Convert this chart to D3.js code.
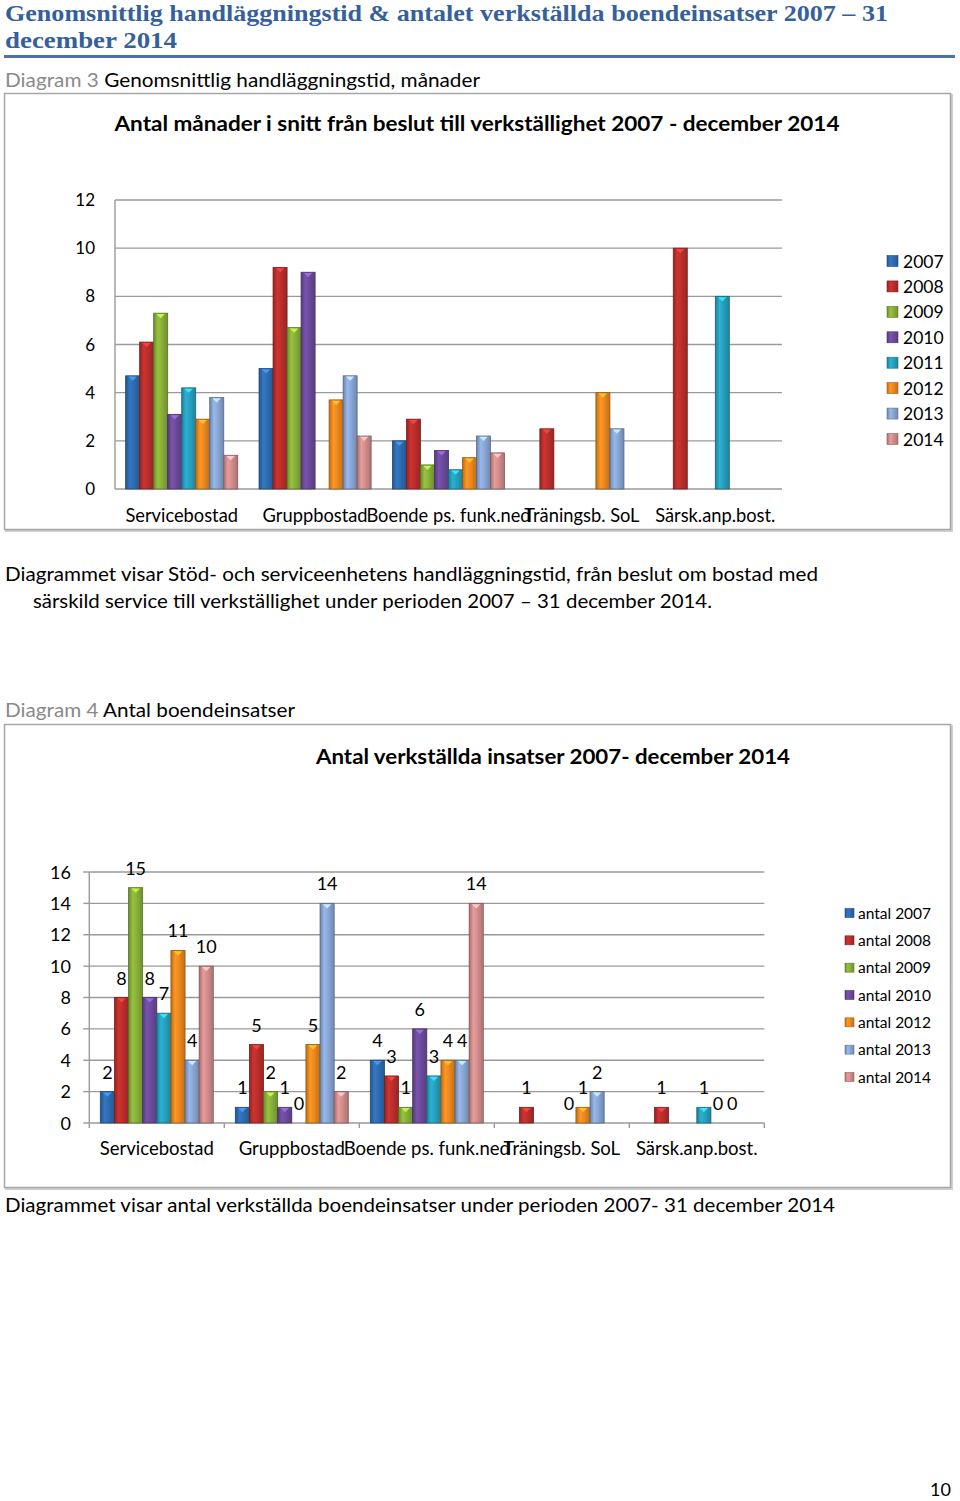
<!DOCTYPE html>
<html><head><meta charset="utf-8">
<script src="https://cdn.jsdelivr.net/npm/d3@7"></script>
<style>
body{margin:0;background:#fff}
svg{display:block}
text{font-family:Lato,"Open Sans",sans-serif;fill:#000}
</style>
</head><body><div id="c"></div>
<script>
// ---------- data ----------
const categories = ["Servicebostad","Gruppbostad","Boende ps. funk.ned","Träningsb. SoL","Särsk.anp.bost."];
const years = ["2007","2008","2009","2010","2011","2012","2013","2014"];
// Diagram 3: average months from decision to execution
const months2007 = [4.7, 5.0, 2.0, null, null];
const months2008 = [6.1, 9.2, 2.9, 2.5, 10.0];
const months2009 = [7.3, 6.7, 1.0, null, null];
const months2010 = [3.1, 9.0, 1.6, null, null];
const months2011 = [4.2, null, 0.8, null, 8.0];
const months2012 = [2.9, 3.7, 1.3, 4.0, null];
const months2013 = [3.8, 4.7, 2.2, 2.5, null];
const months2014 = [1.4, 2.2, 1.5, null, null];
const monthTicks = [0, 2, 4, 6, 8, 10, 12];
// Diagram 4: number of executed housing measures
const antal2007 = [2, 1, 4, null, null];
const antal2008 = [8, 5, 3, 1, 1];
const antal2009 = [15, 2, 1, null, null];
const antal2010 = [8, 1, 6, null, null];
const antal2011 = [7, 0, 3, 0, 1];
const antal2012 = [11, 5, 4, 1, 0];
const antal2013 = [4, 14, 4, 2, 0];
const antal2014 = [10, 2, 14, null, null];
const antalTicks = [0, 2, 4, 6, 8, 10, 12, 14, 16];
const legend1 = ["2007","2008","2009","2010","2011","2012","2013","2014"];
const legend2 = ["antal 2007","antal 2008","antal 2009","antal 2010","antal 2012","antal 2013","antal 2014"];
const seriesColors = ["#2f6db4","#bd2f2c","#8ab23a","#6e4c9e","#27a2c1","#ef8a1f","#8ba8d8","#d48f8e"];

const months = [months2007,months2008,months2009,months2010,months2011,months2012,months2013,months2014];
const antal = [antal2007,antal2008,antal2009,antal2010,antal2011,antal2012,antal2013,antal2014];

// ---------- page ----------
const W = 960, H = 1501;
const svg = d3.select("#c").append("svg").attr("width", W).attr("height", H);
svg.append("rect").attr("width", W).attr("height", H).attr("fill", "#fff");
const defs = svg.append("defs");

seriesColors.forEach((c, i) => {
  const g = defs.append("linearGradient").attr("id", "g" + i).attr("x1", 0).attr("x2", 1).attr("y1", 0).attr("y2", 0);
  const base = d3.color(c);
  g.append("stop").attr("offset", "0%").attr("stop-color", base.darker(0.7));
  g.append("stop").attr("offset", "30%").attr("stop-color", base.brighter(0.25));
  g.append("stop").attr("offset", "55%").attr("stop-color", base);
  g.append("stop").attr("offset", "100%").attr("stop-color", base.darker(0.6));
});

function fitText(t, w) {
  t.attr("textLength", w).attr("lengthAdjust", "spacingAndGlyphs");
  return t;
}

// header
fitText(svg.append("text").attr("x", 5).attr("y", 21)
  .style("font-family", "'Liberation Serif',serif").style("font-weight", "bold").style("font-size", "24px")
  .style("fill", "#36609a")
  .text("Genomsnittlig handläggningstid & antalet verkställda boendeinsatser 2007 – 31"), 883);
fitText(svg.append("text").attr("x", 5).attr("y", 48)
  .style("font-family", "'Liberation Serif',serif").style("font-weight", "bold").style("font-size", "24px")
  .style("fill", "#36609a").text("december 2014"), 172);
svg.append("rect").attr("x", 4).attr("y", 55).attr("width", 951).attr("height", 3).attr("fill", "#4a74a8");

function captionLine(y, grey, rest, w) {
  const t = svg.append("text").attr("x", 5).attr("y", y).style("font-size", "19px");
  t.append("tspan").style("fill", "#8a8a8a").text(grey);
  t.append("tspan").text(rest);
  fitText(t, w);
}
captionLine(87, "Diagram 3", " Genomsnittlig handläggningstid, månader", 475);

// ---------- generic chart ----------
function frame(x, y, w, h) {
  svg.append("rect").attr("x", x + 1.5).attr("y", y + 1.5).attr("width", w).attr("height", h)
    .attr("fill", "none").attr("stroke", "#cfcfcf").attr("stroke-width", 2);
  svg.append("rect").attr("x", x).attr("y", y).attr("width", w).attr("height", h)
    .attr("fill", "#fff").attr("stroke", "#a6a6a6").attr("stroke-width", 1.5);
}

function drawBars(g, data, x0, x1, y, withLabels, labelSize) {
  data.forEach((vals, si) => {
    vals.forEach((v, ci) => {
      if (v === null) return;
      const bx = x0(categories[ci]) + x1(years[si]);
      const bw = x1.bandwidth();
      const top = y(v), bot = y(0);
      if (bot - top > 0.5) {
        g.append("rect").attr("x", bx).attr("y", top).attr("width", bw).attr("height", bot - top)
          .attr("fill", "url(#g" + si + ")").attr("stroke", d3.color(seriesColors[si]).darker(1.3))
          .attr("stroke-width", 0.8);
        const th = Math.min(5, (bot - top) / 2);
        g.append("path")
          .attr("d", `M${bx + bw * 0.2},${top + 0.8} L${bx + bw * 0.8},${top + 0.8} L${bx + bw / 2},${top + th}Z`)
          .attr("fill", d3.color(seriesColors[si]).brighter(1.1)).attr("opacity", 0.85);
      }
      if (withLabels) {
        g.append("text").attr("x", bx + bw / 2).attr("y", top - 13)
          .attr("text-anchor", "middle").style("font-size", labelSize).text(v);
      }
    });
  });
}

// ---------- Diagram 3 ----------
frame(4.5, 93.5, 946, 436);
fitText(svg.append("text").attr("x", 477).attr("y", 131).attr("text-anchor", "middle")
  .style("font-size", "21px").style("font-weight", "bold")
  .text("Antal månader i snitt från beslut till verkställighet 2007 - december 2014"), 725);

{
  const left = 115, right = 782, top = 200, bottom = 489;
  const y = d3.scaleLinear().domain([0, 12]).range([bottom, top]);
  const x0 = d3.scaleBand().domain(categories).range([left, right]).padding(0);
  const x1 = d3.scaleBand().domain(years).range([0, x0.bandwidth()]).paddingInner(0).paddingOuter(0.76);
  const g = svg.append("g");
  g.selectAll("line.grid").data(monthTicks).join("line")
    .attr("x1", left).attr("x2", right).attr("y1", d => y(d)).attr("y2", d => y(d))
    .attr("stroke", "#9a9a9a").attr("stroke-width", 1.4);
  g.append("line").attr("x1", left).attr("x2", left).attr("y1", top).attr("y2", bottom)
    .attr("stroke", "#9a9a9a").attr("stroke-width", 1.4);
  g.selectAll("text.yt").data(monthTicks).join("text")
    .attr("x", 95).attr("y", d => y(d) + 6).attr("text-anchor", "end").style("font-size", "17px").text(d => d);
  g.selectAll("text.xt").data(categories).join("text")
    .attr("x", d => x0(d) + x0.bandwidth() / 2).attr("y", 522).attr("text-anchor", "middle")
    .style("font-size", "18.3px").text(d => d);
  drawBars(g, months, x0, x1, y, false);
  // legend
  const ly = d3.scalePoint().domain(legend1).range([261, 439]);
  legend1.forEach((name, i) => {
    const si = years.indexOf(name);
    g.append("rect").attr("x", 887).attr("y", ly(name) - 5.5).attr("width", 11).attr("height", 11)
      .attr("fill", "url(#g" + si + ")").attr("stroke", d3.color(seriesColors[si]).darker(1)).attr("stroke-width", 0.6);
    g.append("text").attr("x", 903).attr("y", ly(name) + 6.5).style("font-size", "17.5px").text(name);
  });
}

// paragraph
fitText(svg.append("text").attr("x", 5).attr("y", 581).style("font-size", "19px")
  .text("Diagrammet visar Stöd- och serviceenhetens handläggningstid, från beslut om bostad med"), 813);
fitText(svg.append("text").attr("x", 33).attr("y", 608).style("font-size", "19px")
  .text("särskild service till verkställighet under perioden 2007 – 31 december 2014."), 679);

captionLine(717, "Diagram 4", " Antal boendeinsatser", 290);

// ---------- Diagram 4 ----------
frame(4.5, 724.5, 946, 463);
fitText(svg.append("text").attr("x", 553).attr("y", 764).attr("text-anchor", "middle")
  .style("font-size", "21px").style("font-weight", "bold")
  .text("Antal verkställda insatser 2007- december 2014"), 474);

{
  const left = 89.3, right = 764.3, top = 872, bottom = 1123;
  const y = d3.scaleLinear().domain([0, 16]).range([bottom, top]);
  const x0 = d3.scaleBand().domain(categories).range([left, right]).padding(0);
  const x1 = d3.scaleBand().domain(years).range([0, x0.bandwidth()]).paddingInner(0).paddingOuter(0.78);
  const g = svg.append("g");
  g.selectAll("line.grid").data(antalTicks).join("line")
    .attr("x1", left).attr("x2", right).attr("y1", d => y(d)).attr("y2", d => y(d))
    .attr("stroke", "#9a9a9a").attr("stroke-width", 1.4);
  g.selectAll("line.ytk").data(antalTicks).join("line")
    .attr("x1", left - 6).attr("x2", left).attr("y1", d => y(d)).attr("y2", d => y(d))
    .attr("stroke", "#9a9a9a").attr("stroke-width", 1.4);
  g.append("line").attr("x1", left).attr("x2", left).attr("y1", top).attr("y2", bottom + 5)
    .attr("stroke", "#9a9a9a").attr("stroke-width", 1.4);
  g.selectAll("line.xtk").data(categories.slice(1).concat(["end"])).join("line")
    .attr("x1", (d, i) => i < categories.length - 1 ? x0(d) : right)
    .attr("x2", (d, i) => i < categories.length - 1 ? x0(d) : right)
    .attr("y1", bottom).attr("y2", bottom + 5).attr("stroke", "#9a9a9a").attr("stroke-width", 1.4);
  g.selectAll("text.yt").data(antalTicks).join("text")
    .attr("x", 71).attr("y", d => y(d) + 6.5).attr("text-anchor", "end").style("font-size", "18px").text(d => d);
  g.selectAll("text.xt").data(categories).join("text")
    .attr("x", d => x0(d) + x0.bandwidth() / 2).attr("y", 1155).attr("text-anchor", "middle")
    .style("font-size", "18.5px").text(d => d);
  drawBars(g, antal, x0, x1, y, true, "18px");
  const ly = d3.scalePoint().domain(legend2).range([913, 1077]);
  legend2.forEach(name => {
    const si = years.indexOf(name.replace("antal ", ""));
    g.append("rect").attr("x", 845).attr("y", ly(name) - 4.5).attr("width", 9).attr("height", 9)
      .attr("fill", "url(#g" + si + ")").attr("stroke", d3.color(seriesColors[si]).darker(1)).attr("stroke-width", 0.6);
    g.append("text").attr("x", 858).attr("y", ly(name) + 5.5).style("font-size", "15.5px").text(name);
  });
}

fitText(svg.append("text").attr("x", 5).attr("y", 1212).style("font-size", "19px")
  .text("Diagrammet visar antal verkställda boendeinsatser under perioden 2007- 31 december 2014"), 830);

svg.append("text").attr("x", 951).attr("y", 1496).attr("text-anchor", "end").style("font-size", "18px").text("10");
</script>
</body></html>
